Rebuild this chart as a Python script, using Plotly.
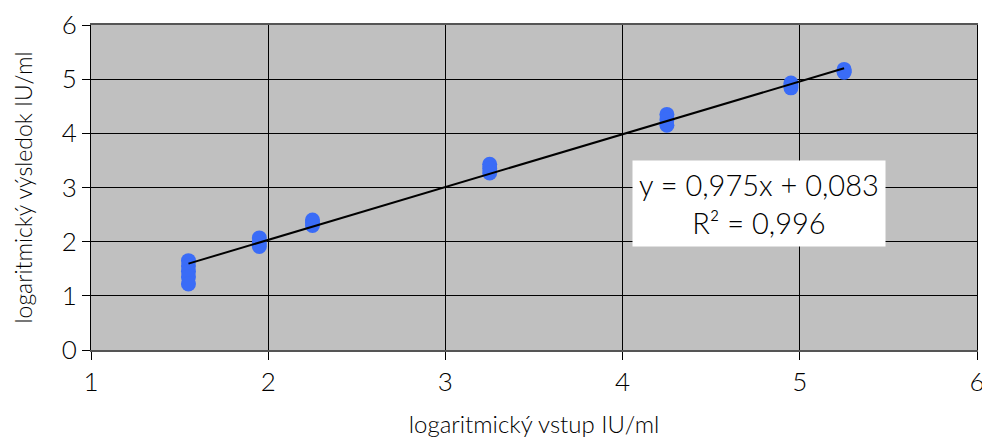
import plotly.graph_objects as go

# data
x_groups = [1.55, 1.95, 2.25, 3.25, 4.25, 4.95, 5.25]
y_groups = [
    [1.65, 1.55, 1.45, 1.35, 1.22],
    [2.07, 1.98, 1.91],
    [2.40, 2.35, 2.30],
    [3.43, 3.35, 3.27],
    [4.35, 4.25, 4.15],
    [4.93, 4.88, 4.84],
    [5.18, 5.15, 5.13],
]
slope = 0.975
intercept = 0.083
r2 = 0.996
x_ticks = [1, 2, 3, 4, 5, 6]
y_ticks = [0, 1, 2, 3, 4, 5, 6]

xs, ys = [], []
for xv, yl in zip(x_groups, y_groups):
    for yv in yl:
        xs.append(xv)
        ys.append(yv)

font_family = "Lato, 'Liberation Sans', sans-serif"

fig = go.Figure()
fig.add_trace(go.Scatter(
    x=xs, y=ys, mode="markers",
    marker=dict(color="#3a6cf7", size=15, line=dict(width=0)),
    showlegend=False,
))
lx = [min(x_groups), max(x_groups)]
ly = [slope * v + intercept for v in lx]
fig.add_trace(go.Scatter(
    x=lx, y=ly, mode="lines",
    line=dict(color="black", width=2),
    showlegend=False,
))

fig.add_annotation(
    x=4.77, y=2.7, xref="x", yref="y",
    text=f"y = {slope:.3f}x + {intercept:.3f}".replace(".", ",") + "<br>" +
         f"R² = {r2:.3f}".replace(".", ","),
    showarrow=False,
    font=dict(family=font_family, size=29, color="black", weight=300),
    bgcolor="white",
    borderpad=6,
    align="center",
)

fig.update_layout(
    width=982, height=430,
    margin=dict(l=83, r=13, t=17, b=88),
    paper_bgcolor="white",
    plot_bgcolor="#c0c0c0",
    font=dict(family=font_family, size=25, color="black", weight=300),
    xaxis=dict(
        range=[1, 6], tickvals=x_ticks, showgrid=True, gridcolor="black", gridwidth=1,
        zeroline=False, showline=True, linecolor="#555555", linewidth=2, mirror=True,
        ticks="outside", ticklen=8, tickcolor="black", automargin=False,
        title=dict(text="logaritmický vstup IU/ml", font=dict(size=24, weight=300), standoff=22),
        tickfont=dict(size=26, weight=300),
    ),
    yaxis=dict(
        range=[0, 6], tickvals=y_ticks, showgrid=True, gridcolor="black", gridwidth=1,
        zeroline=False, showline=True, linecolor="black", linewidth=1, mirror=True,
        ticks="outside", ticklen=8, tickcolor="black", automargin=False,
        title=dict(text="logaritmický výsledok IU/ml", font=dict(size=23, weight=300), standoff=22),
        tickfont=dict(size=26, weight=300),
    ),
)

fig.write_html("out.html")
